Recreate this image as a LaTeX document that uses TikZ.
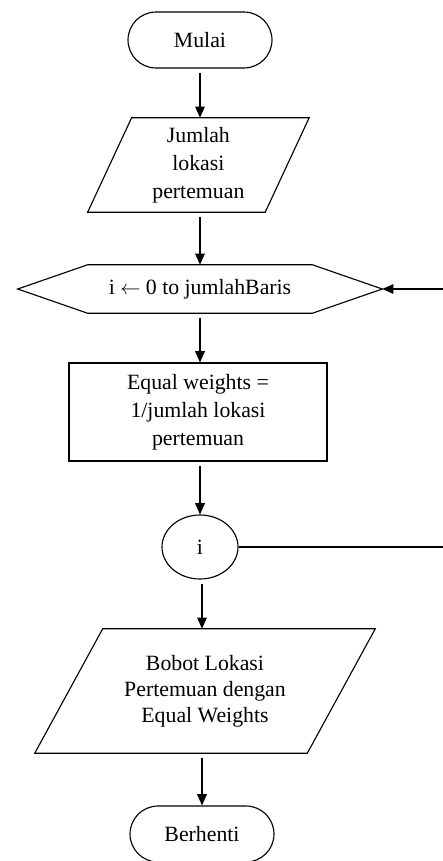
\documentclass[tikz,border=0pt]{standalone}
\usepackage{fontspec}
\setmainfont{Liberation Serif}
\usetikzlibrary{shapes.geometric,arrows.meta}

% jajaran genjang di sekitar node: #1 nama node, #2 setengah kemiringan
\newcommand{\jajar}[2]{\draw[garis] ([xshift=#2]#1.north west) -- ([xshift=#2]#1.north east) -- ([xshift=-#2]#1.south east) -- ([xshift=-#2]#1.south west) -- cycle;}

\tikzset{
	teks/.style={font=\fontsize{15.5}{20}\selectfont, align=center},
	term/.style={teks, draw, line width=0.8pt, rounded corners=0.7cm, minimum width=3.6cm, minimum height=1.4cm},
	proses/.style={teks, draw, line width=0.8pt, minimum width=6.45cm, minimum height=2.45cm},
	konektor/.style={teks, draw, line width=0.8pt, ellipse, minimum width=1.9cm, minimum height=1.6cm, inner sep=0pt},
	panah/.style={line width=0.9pt, -{Triangle[length=2.8mm,width=2.4mm]}},
	garis/.style={line width=0.8pt}
}

\begin{document}
\begin{tikzpicture}
		%%%%% START %%%%%
		\useasboundingbox (0, 0) rectangle (11.05, -21.525);
		
		\node[term] (mulai) at (5, -1.0) {Mulai};
		\node[teks, minimum width=4.425cm, minimum height=2.35cm] (jumlah) at (4.96, -4.125) {Jumlah\\lokasi\\pertemuan};
		\jajar{jumlah}{0.55cm}
		
		% perulangan
		\node[teks, minimum width=5.6cm, minimum height=1.2cm] (ulang) at (5, -7.225) {i $\leftarrow$ 0 to jumlahBaris};
		\draw[garis] (ulang.north west) -- (ulang.north east) -- ([xshift=1.75cm]ulang.east) coordinate (ulangkanan) -- (ulang.south east) -- (ulang.south west) -- ([xshift=-1.75cm]ulang.west) -- cycle;
		
		\node[proses] (bobot) at (4.95, -10.3) {Equal weights =\\1/jumlah lokasi\\pertemuan};
		\node[konektor] (iter) at (5, -13.675) {i};
		
		\node[teks, minimum width=6.8cm, minimum height=3.1cm, font=\fontsize{15.5}{18.5}\selectfont] (hasil) at (5.125, -17.275) {Bobot Lokasi\\Pertemuan dengan\\Equal Weights};
		\jajar{hasil}{0.85cm}
		\node[term] (berhenti) at (5.05, -20.85) {Berhenti};
		
		\draw[panah, shorten <=3pt] (mulai) -- (mulai |- jumlah.north);
		\draw[panah, shorten <=3pt] (mulai |- jumlah.south) -- (mulai |- ulang.north);
		\draw[panah, shorten <=3pt] (ulang) -- (ulang |- bobot.north);
		\draw[panah, shorten <=3pt] (ulang |- bobot.south) -- (iter);
		\draw[panah, shorten <=3pt] (berhenti |- iter.south) -- (berhenti |- hasil.north);
		\draw[panah, shorten <=3pt] (berhenti |- hasil.south) -- (berhenti);
		
		% kembali ke perulangan
		\coordinate (kanan1) at (11.1, -13.7);
		\coordinate (kanan2) at (11.1, -7.225);
		\draw[garis] (iter.east) -- (iter.east -| kanan1);
		\draw[panah] (kanan2) -- (ulangkanan);
		
		%%%%% END %%%%%
	\end{tikzpicture}
\end{document}
